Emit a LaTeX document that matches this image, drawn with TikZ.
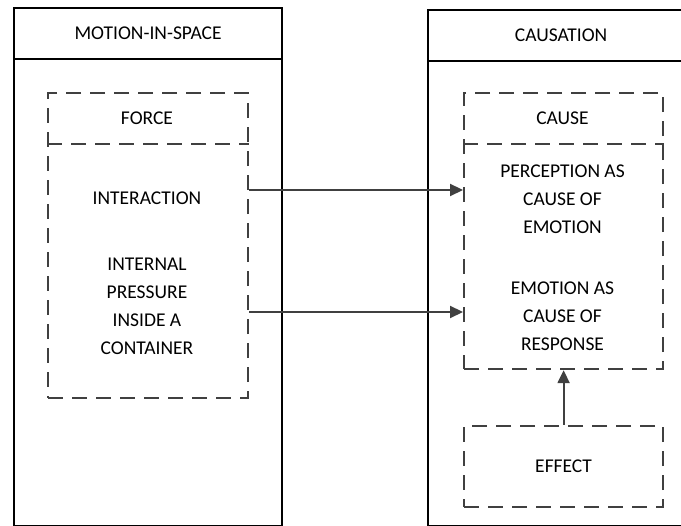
\documentclass[tikz,border=0pt]{standalone}
\usepackage{fontspec}
\setmainfont{Carlito}
\usetikzlibrary{arrows.meta,positioning}
\definecolor{linegray}{HTML}{404040}

\begin{document}
\begin{tikzpicture}[x=1pt,y=-1pt,>={Triangle[length=13pt,width=12pt]},
  every node/.style={font=\fontsize{19.5}{28}\selectfont,inner sep=0pt},
  outerbox/.style={draw=black,line width=2.2pt,anchor=north west},
  dashbox/.style={draw=linegray,line width=2.2pt,dash pattern=on 15pt off 9pt,anchor=north west},
  dashline/.style={draw=linegray,line width=2.2pt,dash pattern=on 15pt off 9pt},
  label/.style={align=center},
  flow/.style={->,draw=linegray,line width=2.2pt}]
  \path[use as bounding box,clip] (0,0) rectangle (681,526);
  % the two columns
  \node[outerbox,minimum width=268pt,minimum height=518pt] (motion) at (13,7) {};
  \node[outerbox,minimum width=268pt,minimum height=51pt] (motionhead) at (13,7) {MOTION-IN-SPACE};
  \node[outerbox,minimum width=266pt,minimum height=516pt] (causation) at (427,9) {};
  \node[outerbox,minimum width=266pt,minimum height=51pt] (causationhead) at (427,9) {CAUSATION};
  % left side
  \node[dashbox,minimum width=200pt,minimum height=305pt] (forcebox) at (47,92) {};
  \node (force) at (147,118) {FORCE};
  \coordinate (forcesplit) at (0,144);
  \draw[dashline] (forcebox.west |- forcesplit) -- (forcebox.east |- forcesplit);
  \node[label] (interaction) at (147,198) {INTERACTION};
  \node[label] (pressure) at (147,306) {INTERNAL\\PRESSURE\\INSIDE A\\CONTAINER};
  % right side
  \node[dashbox,minimum width=199pt,minimum height=276pt] (causebox) at (463,92) {};
  \node (cause) at (562.5,118) {CAUSE};
  \coordinate (causesplit) at (0,144);
  \draw[dashline] (causebox.west |- causesplit) -- (causebox.east |- causesplit);
  \node[label] (perception) at (562.5,199) {PERCEPTION AS\\CAUSE OF\\EMOTION};
  \node[label] (emotion) at (562.5,316) {EMOTION AS\\CAUSE OF\\RESPONSE};
  \node[dashbox,minimum width=199pt,minimum height=81pt] (effect) at (463,425) {EFFECT};
  % mappings
  \coordinate (rowone) at (0,190);
  \coordinate (rowtwo) at (0,312);
  \draw[flow] (forcebox.east |- rowone) -- (causebox.west |- rowone);
  \draw[flow] (forcebox.east |- rowtwo) -- (causebox.west |- rowtwo);
  \draw[flow] (effect.north) -- (causebox.south);
\end{tikzpicture}
\end{document}
